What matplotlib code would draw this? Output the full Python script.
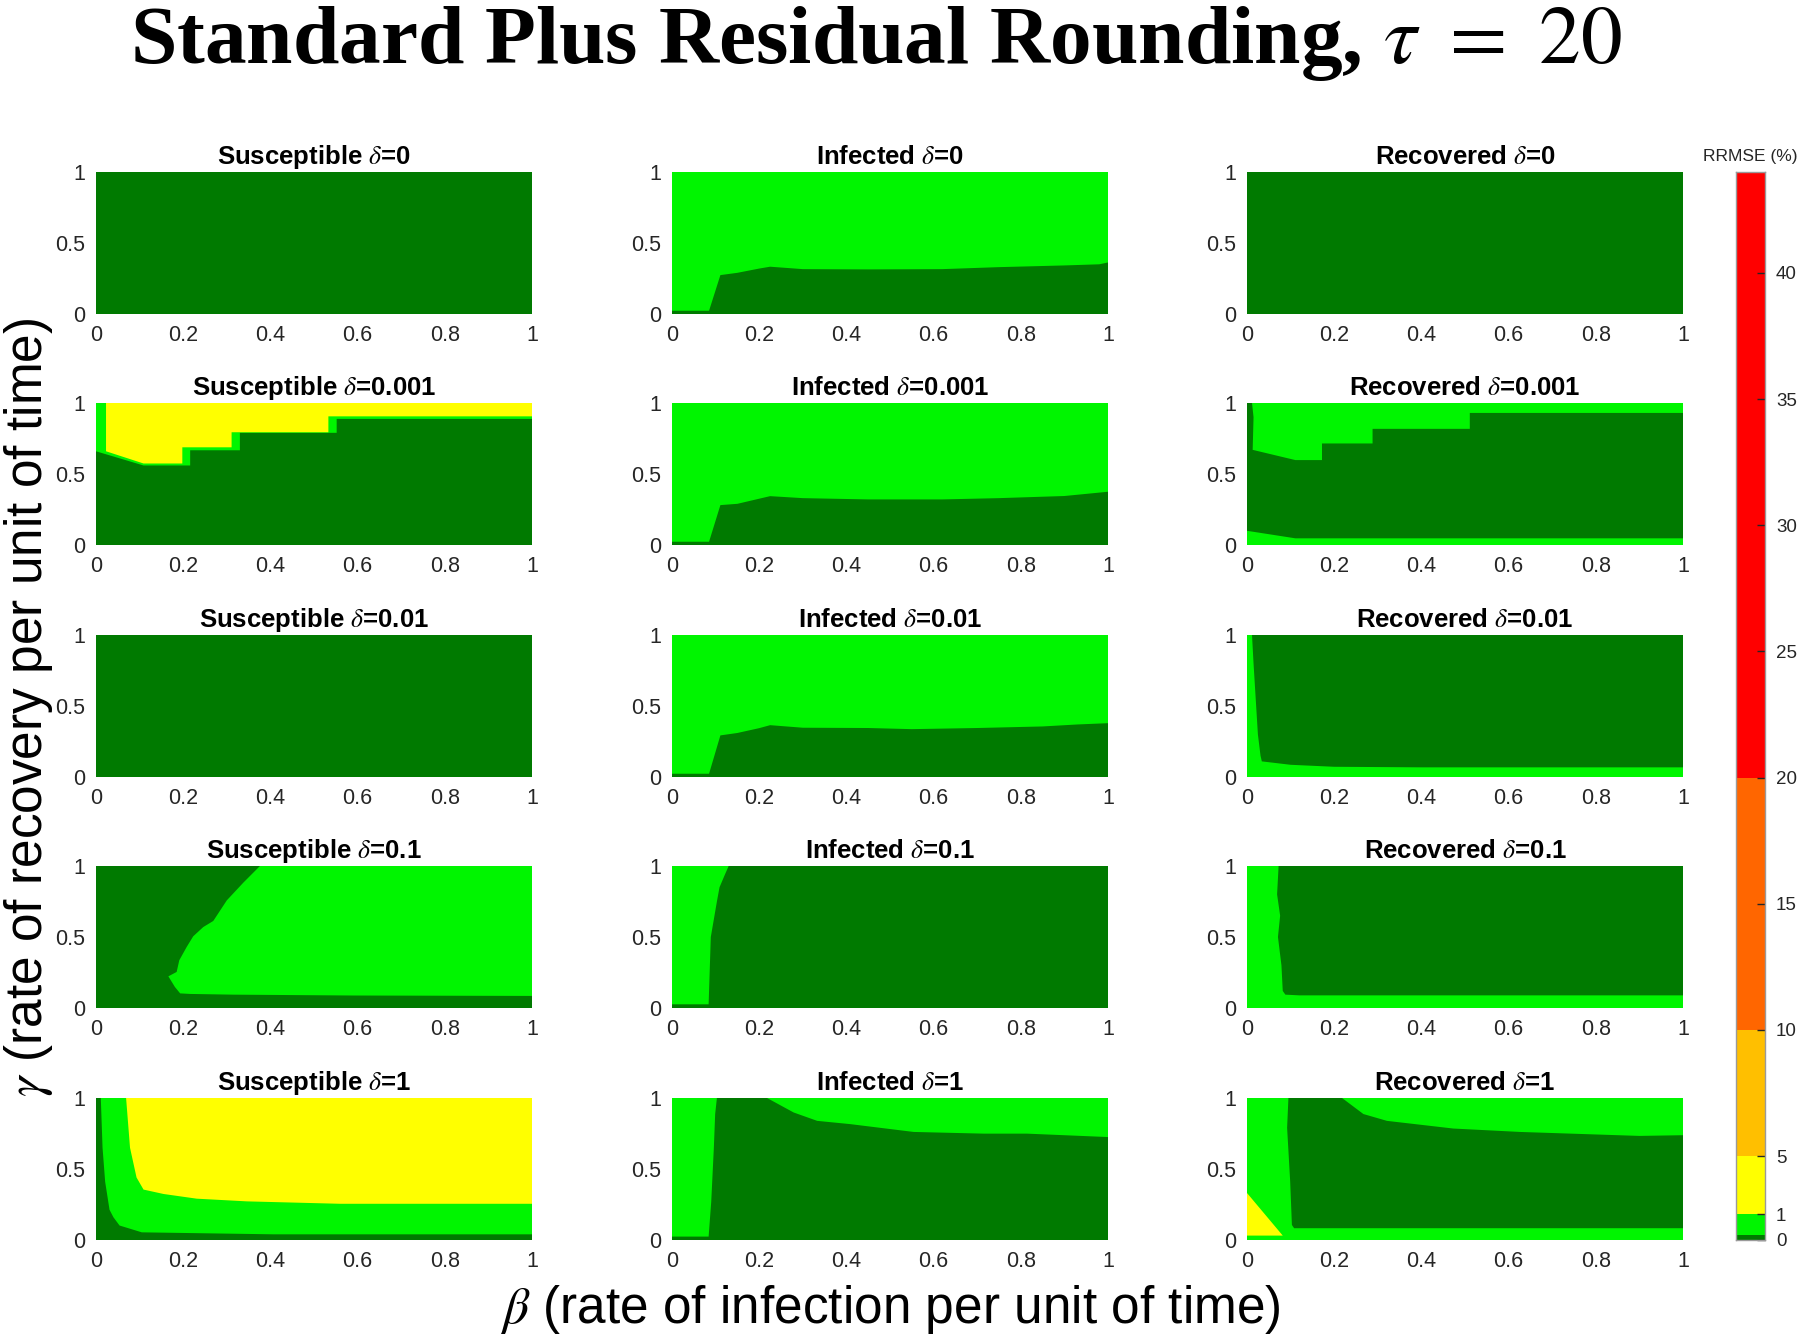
import numpy as np
import matplotlib
matplotlib.use("Agg")
import matplotlib.pyplot as plt

plt.rcParams.update({
    "font.family": ["Liberation Sans", "DejaVu Sans"],
    "mathtext.fontset": "stix",
})

# RRMSE (%) colour classes
rrmse_edges = [0, 0.2, 1, 5, 10, 20, 44]
rrmse_colors = ["#007a00", "#00f500", "#ffff00", "#ffbf00", "#ff6600", "#ff0000"]
cbar_ticks = [0, 1, 5, 10, 15, 20, 25, 30, 35, 40]

compartments = ["Susceptible", "Infected", "Recovered"]
deltas = ["0", "0.001", "0.01", "0.1", "1"]
beta_ticks = [0, 0.2, 0.4, 0.6, 0.8, 1]
beta_labels = ["0", "0.2", "0.4", "0.6", "0.8", "1"]
gamma_ticks = [0, 0.5, 1]
gamma_labels = ["0", "0.5", "1"]

# representative RRMSE value of each painted class
DARK, LIGHT, YELLOW = 0.1, 0.6, 3.0

# region outlines (beta, gamma)
s001_dark_b = [0, 0, 0.109, 0.216, 0.216, 0.33, 0.33, 0.552, 0.552, 1, 1]
s001_dark_g = [0, 0.66, 0.56, 0.56, 0.667, 0.667, 0.79, 0.79, 0.888, 0.888, 0]
s001_yel_b = [0.023, 0.023, 0.109, 0.198, 0.198, 0.311, 0.311, 0.533, 0.533, 1, 1]
s001_yel_g = [1, 0.66, 0.574, 0.574, 0.688, 0.688, 0.794, 0.794, 0.906, 0.906, 1]

s01_light_b = [0.376, 1, 1, 0.59, 0.315, 0.216, 0.193, 0.181, 0.166, 0.185, 0.191,
               0.208, 0.223, 0.246, 0.269, 0.3, 0.338]
s01_light_g = [1, 1, 0.085, 0.088, 0.094, 0.099, 0.103, 0.148, 0.223, 0.254, 0.336,
               0.43, 0.505, 0.57, 0.613, 0.758, 0.883]

s1_light_b = [0.011, 0.015, 0.021, 0.031, 0.040, 0.054, 0.105, 0.407, 1, 1]
s1_light_g = [1, 0.65, 0.41, 0.213, 0.16, 0.102, 0.054, 0.04, 0.04, 1]
s1_yel_b = [0.069, 0.078, 0.093, 0.109, 0.155, 0.231, 0.346, 0.56, 1, 1]
s1_yel_g = [1, 0.65, 0.44, 0.355, 0.324, 0.291, 0.272, 0.255, 0.255, 1]

i0_dark_b = [0, 0, 0.085, 0.111, 0.15, 0.2, 0.225, 0.3, 0.45, 0.62, 0.75, 0.9, 0.98, 1, 1]
i0_dark_g = [0, 0.023, 0.023, 0.274, 0.29, 0.32, 0.333, 0.316, 0.314, 0.316, 0.33,
             0.342, 0.35, 0.363, 0]
i001_dark_b = [0, 0, 0.085, 0.111, 0.15, 0.2, 0.225, 0.3, 0.45, 0.62, 0.75, 0.9, 1, 1]
i001_dark_g = [0, 0.023, 0.023, 0.281, 0.29, 0.326, 0.344, 0.33, 0.321, 0.321, 0.33,
               0.345, 0.375, 0]
i01_dark_b = [0, 0, 0.085, 0.111, 0.15, 0.2, 0.225, 0.3, 0.45, 0.55, 0.7, 0.85, 0.93, 1, 1]
i01_dark_g = [0, 0.023, 0.023, 0.293, 0.31, 0.344, 0.365, 0.347, 0.345, 0.337, 0.345,
              0.356, 0.37, 0.379, 0]
i1_light_b = [0, 0.084, 0.089, 0.103, 0.109, 0.12, 0.13, 0]
i1_light_g = [0.026, 0.026, 0.5, 0.75, 0.85, 0.93, 1, 1]
i_1_dark_b = [0, 0, 0.084, 0.09, 0.096, 0.099, 0.103, 0.218, 0.279, 0.333, 0.409,
              0.554, 0.715, 0.814, 1, 1]
i_1_dark_g = [0, 0.024, 0.024, 0.27, 0.65, 0.887, 1, 1, 0.898, 0.839, 0.816,
              0.761, 0.749, 0.749, 0.725, 0]

r001_top_b = [0.0115, 0.015, 0.013, 0.111, 0.172, 0.172, 0.288, 0.288, 0.511, 0.511, 1, 1]
r001_top_g = [1, 0.9, 0.67, 0.598, 0.598, 0.715, 0.715, 0.818, 0.818, 0.93, 0.93, 1]
r001_bot_b = [0, 0, 0.111, 1, 1]
r001_bot_g = [0, 0.10, 0.047, 0.047, 0]
r01_dark_b = [0.0115, 0.015, 0.021, 0.025, 0.031, 0.034, 0.1, 0.2, 0.4, 1, 1]
r01_dark_g = [1, 0.8, 0.5, 0.3, 0.15, 0.11, 0.086, 0.072, 0.068, 0.068, 1]
r1_dark_b = [0.0725, 0.069, 0.076, 0.071, 0.079, 0.082, 0.088, 0.12, 1, 1]
r1_dark_g = [1, 0.8, 0.65, 0.5, 0.3, 0.12, 0.094, 0.089, 0.089, 1]
r_1_yel_b = [0, 0, 0.082]
r_1_yel_g = [0.031, 0.331, 0.031]
r_1_dark_b = [0.095, 0.092, 0.099, 0.103, 0.108, 1, 1, 0.9, 0.626, 0.473, 0.321, 0.267, 0.218]
r_1_dark_g = [1, 0.79, 0.414, 0.106, 0.083, 0.083, 0.738, 0.733, 0.761, 0.785, 0.839, 0.887, 1]

# (row, col) -> (background class, [(class, beta outline, gamma outline), ...])
panels = {
    (0, 0): (DARK, []),
    (0, 1): (LIGHT, [(DARK, i0_dark_b, i0_dark_g)]),
    (0, 2): (DARK, []),
    (1, 0): (LIGHT, [(DARK, s001_dark_b, s001_dark_g), (YELLOW, s001_yel_b, s001_yel_g)]),
    (1, 1): (LIGHT, [(DARK, i001_dark_b, i001_dark_g)]),
    (1, 2): (DARK, [(LIGHT, r001_top_b, r001_top_g), (LIGHT, r001_bot_b, r001_bot_g)]),
    (2, 0): (DARK, []),
    (2, 1): (LIGHT, [(DARK, i01_dark_b, i01_dark_g)]),
    (2, 2): (LIGHT, [(DARK, r01_dark_b, r01_dark_g)]),
    (3, 0): (DARK, [(LIGHT, s01_light_b, s01_light_g)]),
    (3, 1): (DARK, [(LIGHT, i1_light_b, i1_light_g)]),
    (3, 2): (LIGHT, [(DARK, r1_dark_b, r1_dark_g)]),
    (4, 0): (DARK, [(LIGHT, s1_light_b, s1_light_g), (YELLOW, s1_yel_b, s1_yel_g)]),
    (4, 1): (LIGHT, [(DARK, i_1_dark_b, i_1_dark_g)]),
    (4, 2): (LIGHT, [(YELLOW, r_1_yel_b, r_1_yel_g), (DARK, r_1_dark_b, r_1_dark_g)]),
}


def class_color(v):
    idx = np.searchsorted(rrmse_edges, v, side="right") - 1
    return rrmse_colors[min(max(idx, 0), len(rrmse_colors) - 1)]


W, H = 1800, 1336
fig = plt.figure(figsize=(W / 100, H / 100), dpi=100)

lefts = [96, 672, 1247]
tops = [172, 403, 635, 866, 1098]
aw, ah = 436, 142
tick_col = "#262626"

for (r, c), (base, regions) in panels.items():
    ax = fig.add_axes([lefts[c] / W, 1 - (tops[r] + ah) / H, aw / W, ah / H])
    ax.fill_between([0, 1], 0, 1, color=class_color(base), lw=0)
    for val, b, g in regions:
        ax.fill(b, g, color=class_color(val), lw=0)
    ax.set_xlim(0, 1)
    ax.set_ylim(0, 1)
    ax.set_xticks(beta_ticks, beta_labels)
    ax.set_yticks(gamma_ticks, gamma_labels)
    ax.tick_params(length=0, labelsize=15.5, colors=tick_col, pad=8)
    for s in ax.spines.values():
        s.set_visible(False)
    ax.set_title(compartments[c] + r" $\delta$=" + deltas[r],
                 fontsize=18.5, fontweight="bold", pad=6)

# colour bar with the same uneven spacing as the original
cb_val = [-44, 0, 1, 5, 44, 88]
cb_pos = [-1.056, 0, 0.024, 0.0785, 1.0, 2.04]
cax = fig.add_axes([1736 / W, 1 - 1240 / H, 29 / W, 1068 / H])
cax.set_yscale("function", functions=(lambda v: np.interp(v, cb_val, cb_pos),
                                      lambda p: np.interp(p, cb_pos, cb_val)))
for lo, hi, col in zip(rrmse_edges[:-1], rrmse_edges[1:], rrmse_colors):
    cax.fill_between([0, 1], lo, hi, color=col, lw=0)
cax.set_xlim(0, 1)
cax.set_ylim(0, 44)
cax.set_xticks([])
cax.yaxis.tick_right()
cax.set_yticks(cbar_ticks, [str(t) for t in cbar_ticks])
cax.yaxis.set_minor_locator(matplotlib.ticker.NullLocator())
cax.tick_params(axis="y", direction="in", length=6, width=1, labelsize=13.5,
                colors=tick_col, pad=8)
for s in cax.spines.values():
    s.set_color("#9a9a9a")
    s.set_linewidth(1)
cax.set_title("RRMSE (%)", fontsize=12.5, color=tick_col, pad=8)

fig.text(890 / W, 1 - 1309 / H, r"$\beta$ (rate of infection per unit of time)",
         fontsize=37, ha="center", va="center")
fig.text(29 / W, 1 - 707 / H, r"$\gamma$ (rate of recovery per unit of time)",
         fontsize=37, ha="center", va="center", rotation=90)
fig.text(876 / W, 1 - 63 / H, r"Standard Plus Residual Rounding, $\tau\ =\ 20$",
         fontsize=60, fontweight="bold", family="Liberation Serif",
         ha="center", va="baseline")

fig.savefig("out.png", dpi=100, facecolor="white")
